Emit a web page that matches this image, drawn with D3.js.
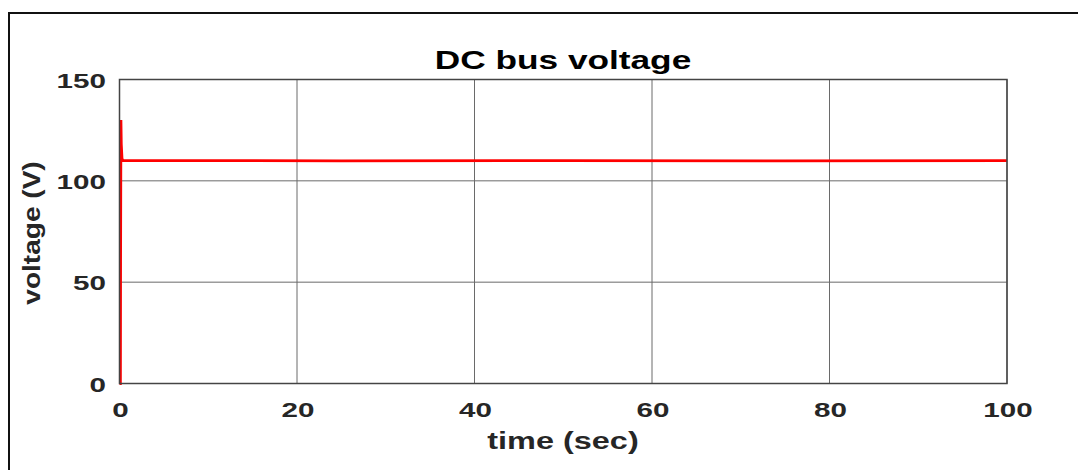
<!DOCTYPE html>
<html>
<head>
<meta charset="utf-8">
<script src="https://cdn.jsdelivr.net/npm/d3@7"></script>
<style>
body{margin:0;background:#fff;}
svg{display:block;font-family:"Liberation Sans",Arial,sans-serif;}
</style>
</head>
<body>
<svg width="1078" height="470"></svg>
<script>
// values
const timeSec = [0, 0.1, 0.12, 0.16, 0.2, 0.28, 0.4, 1, 10, 25, 50, 75, 100];
const voltage = [0, 0, 60, 130, 118, 111, 110, 110, 110, 109.8, 110, 109.8, 110];
const xTicks = [0, 20, 40, 60, 80, 100];
const yTicks = [0, 50, 100, 150];

const svg = d3.select('svg');
const m = {left:119.5, right:1007, top:79.5, bottom:383.5};
const sx = 1.41; // reference glyphs are drawn wide

// outer figure frame
svg.append('rect')
.attr('x',9).attr('y',13).attr('width',1090).attr('height',480)
.attr('fill','none').attr('stroke','#111').attr('stroke-width',2);

const x = d3.scaleLinear().domain([0,100]).range([m.left,m.right]);
const y = d3.scaleLinear().domain([0,150]).range([m.bottom,m.top]);

// grid
svg.append('g').selectAll('line').data(xTicks).enter().append('line')
.attr('x1',d=>x(d)).attr('x2',d=>x(d)).attr('y1',m.top).attr('y2',m.bottom)
.attr('stroke','#6a6a6a').attr('stroke-width',1);
svg.append('g').selectAll('line').data(yTicks).enter().append('line')
.attr('x1',m.left).attr('x2',m.right).attr('y1',d=>y(d)).attr('y2',d=>y(d))
.attr('stroke','#6a6a6a').attr('stroke-width',1);

// data line
const line = d3.line().x((d,i)=>x(timeSec[i])).y(d=>y(d));
svg.append('path').datum(voltage)
.attr('d',line).attr('fill','none').attr('stroke','#ff0000').attr('stroke-width',2.8);

// axis box
svg.append('rect')
.attr('x',m.left).attr('y',m.top).attr('width',m.right-m.left).attr('height',m.bottom-m.top)
.attr('fill','none').attr('stroke','#444').attr('stroke-width',1.5);

// tick labels
svg.append('g').selectAll('text').data(xTicks).enter().append('text')
.attr('transform',d=>`translate(${x(d)+1},417) scale(${sx},1)`).attr('text-anchor','middle')
.attr('font-size',21).attr('font-weight','bold').attr('fill','#262626')
.text(d=>d);
svg.append('g').selectAll('text').data(yTicks).enter().append('text')
.attr('transform',d=>`translate(106,${y(d)+8}) scale(${sx},1)`).attr('text-anchor','end')
.attr('font-size',21).attr('font-weight','bold').attr('fill','#262626')
.text(d=>d);

// titles
svg.append('text').attr('transform',`translate(563,69) scale(${sx},1)`).attr('text-anchor','middle')
.attr('font-size',25).attr('font-weight','bold').attr('fill','#000')
.text('DC bus voltage');
svg.append('text').attr('transform',`translate(563,449) scale(${sx},1)`).attr('text-anchor','middle')
.attr('font-size',23).attr('font-weight','bold').attr('fill','#262626')
.text('time (sec)');
svg.append('text').attr('transform','translate(40,233) rotate(-90) scale(1.22,1)').attr('text-anchor','middle')
.attr('font-size',23).attr('font-weight','bold').attr('fill','#262626')
.text('voltage (V)');
</script>
</body>
</html>
